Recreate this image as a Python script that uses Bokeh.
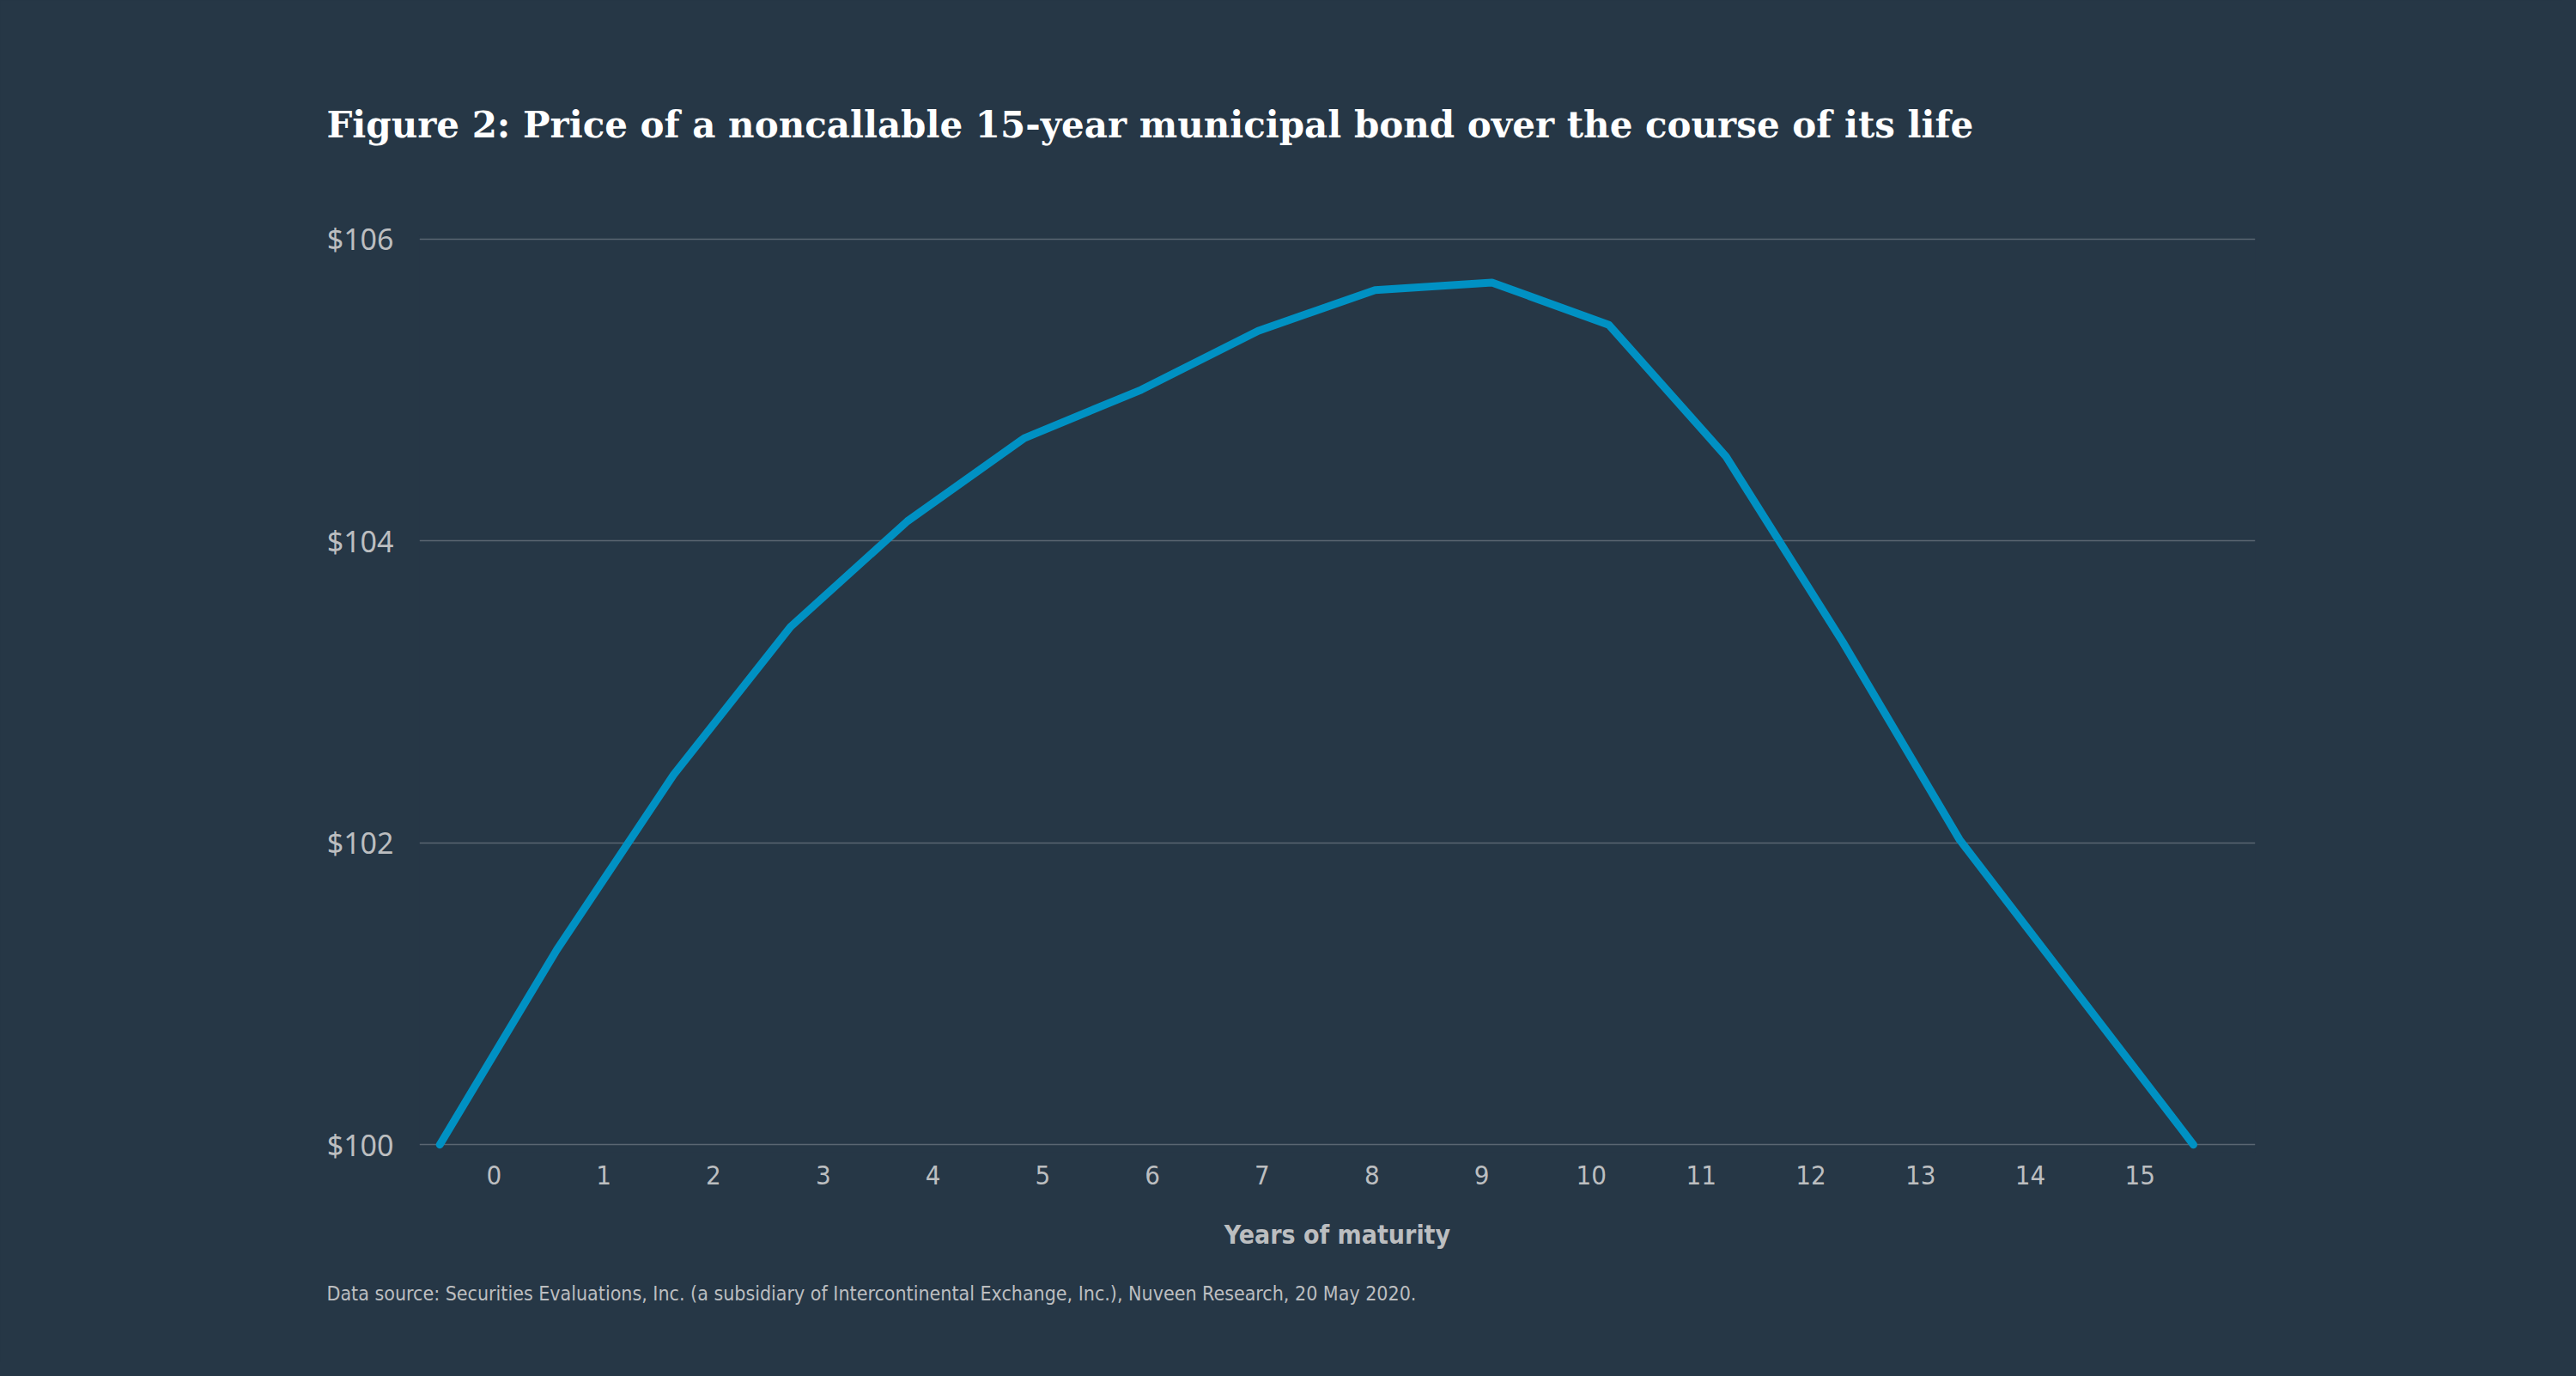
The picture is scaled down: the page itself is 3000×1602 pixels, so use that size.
from bokeh.plotting import figure
from bokeh.models import Range1d, FixedTicker, Title
from bokeh.embed import file_html
from bokeh.resources import INLINE

# ---- data ----
years = list(range(16))
price = [100.0, 101.29, 102.45, 103.43, 104.13, 104.68, 105.00, 105.39,
         105.66, 105.71, 105.43, 104.56, 103.33, 102.02, 101.01, 100.0]
x_ticks = list(range(16))
y_ticks = [100, 102, 104, 106]
y_tick_labels = {100: "$100", 102: "$102", 104: "$104", 106: "$106"}

title_text = "Figure 2: Price of a noncallable 15-year municipal bond over the course of its life"
source_text = ("Data source: Securities Evaluations, Inc. (a subsidiary of Intercontinental "
               "Exchange, Inc.), Nuveen Research, 20 May 2020.")
x_label = "Years of maturity"

BG = "#263746"
LINE = "#0091c3"
GRID = "#5a6672"
TXT = "#bcbec0"
NARROW = "DejaVu Sans Condensed"

p = figure(width=2984, height=1586, output_backend="svg", toolbar_location=None,
           x_range=Range1d(-0.68, 16.05), y_range=Range1d(99.95, 106.02),
           min_border_left=488, min_border_right=358, min_border_top=274,
           min_border_bottom=245)
p.background_fill_color = BG
p.border_fill_color = BG
p.outline_line_color = None

p.extra_x_ranges = {"line": Range1d(-0.174, 15.529)}

p.line(years, price, x_range_name="line", line_color=LINE, line_width=9,
       line_cap="round", line_join="round")

# axes
xa = p.xaxis[0]
xa.ticker = FixedTicker(ticks=x_ticks)
xa.axis_line_color = None
xa.major_tick_line_color = None
xa.minor_tick_line_color = None
xa.major_label_text_color = TXT
xa.major_label_text_font = NARROW
xa.major_label_text_font_size = "31px"
xa.major_label_standoff = 9
xa.axis_label = x_label
xa.axis_label_text_color = TXT
xa.axis_label_text_font = NARROW
xa.axis_label_text_font_style = "bold"
xa.axis_label_text_font_size = "30px"
xa.axis_label_standoff = 38

ya = p.yaxis[0]
ya.ticker = FixedTicker(ticks=y_ticks)
ya.major_label_overrides = y_tick_labels
ya.axis_line_color = None
ya.major_tick_line_color = None
ya.minor_tick_line_color = None
ya.major_label_text_color = TXT
ya.major_label_text_font = "Noto Sans"
ya.major_label_text_font_size = "34px"
ya.major_label_standoff = 24

p.xgrid.grid_line_color = None
p.ygrid.grid_line_color = GRID
p.ygrid.grid_line_width = 1.5

t = Title(text=title_text, align="left", offset=-108, standoff=210,
          text_font="DejaVu Serif", text_font_style="bold", text_font_size="42px",
          text_color="#ffffff")
p.add_layout(t, "above")

s = Title(text=source_text, align="left", offset=-108, standoff=70,
          vertical_align="top",
          text_font=NARROW, text_font_style="normal", text_font_size="23px",
          text_color=TXT)
p.add_layout(s, "below")

html = file_html(p, INLINE)
html = html.replace("<head>", "<head><style>html,body{background:#263746;}</style>", 1)
open("out.html", "w").write(html)
